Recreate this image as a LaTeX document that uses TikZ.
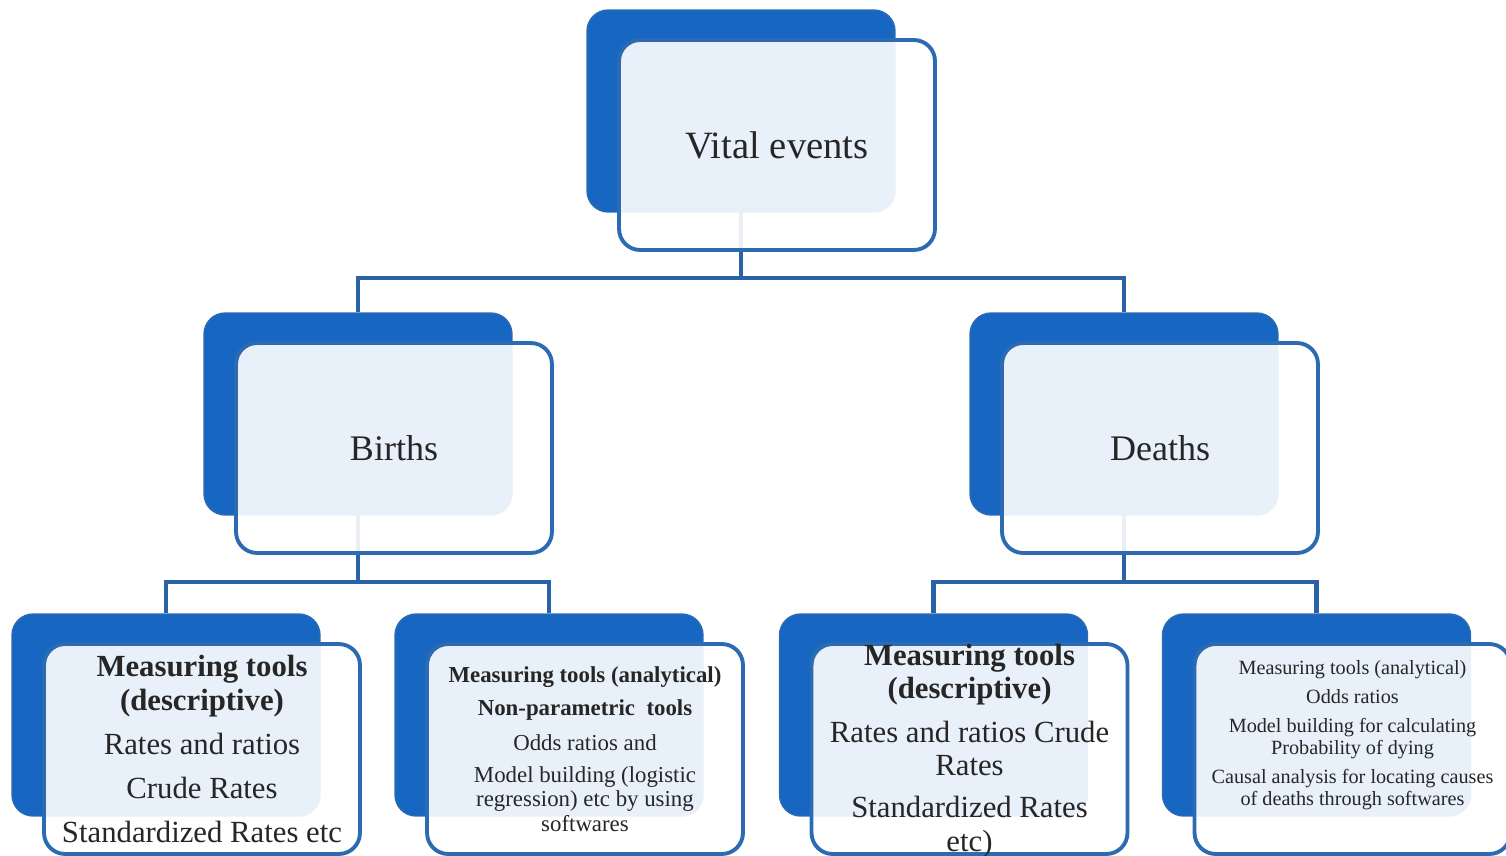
\documentclass[tikz,border=0pt]{standalone}
\usepackage{fontspec}
\setmainfont{Liberation Serif}
\usetikzlibrary{backgrounds}
\definecolor{EventBlue}{HTML}{1766C2}
\definecolor{EventEdge}{HTML}{2C6BB2}
\definecolor{EventLink}{HTML}{2A62A6}
\definecolor{EventText}{HTML}{262626}

\begin{document}
\begin{tikzpicture}[x=0.02cm, y=-0.02cm,
    backbox/.style={draw=EventEdge, line width=0.8pt, fill=EventBlue, rounded corners=12pt, minimum width=6.16cm, minimum height=4.04cm},
    frontbox/.style={draw=EventEdge, line width=2.2pt, fill=white, fill opacity=0.9, text opacity=1, text=EventText, rounded corners=12pt, minimum width=6.32cm, minimum height=4.2cm, align=center},
    plaintext/.style={text=EventText, align=center},
    link/.style={draw=EventLink, line width=2.8pt}]
    \useasboundingbox (0,0) rectangle (1506,855);

    \node[backbox] (vback) at (741,111) {};
    \node[frontbox, font=\fontsize{22}{26}\selectfont] (vital) at ([shift={(36,34)}]vback.center) {Vital events};

    \node[backbox] (bback) at (358,414) {};
    \node[frontbox, font=\fontsize{20.5}{24}\selectfont] (births) at ([shift={(36,34)}]bback.center) {Births};
    \node[backbox] (dback) at (1124,414) {};
    \node[frontbox, font=\fontsize{20.5}{24}\selectfont] (deaths) at ([shift={(36,34)}]dback.center) {Deaths};

    \node[backbox] (b1back) at (166,715) {};
    \node[frontbox, font=\fontsize{17.5}{19}\selectfont] (bdesc) at ([shift={(36,34)}]b1back.center) {%
      \textbf{Measuring tools}\\ \textbf{(descriptive)}\\[6pt] Rates and ratios\\[6pt] Crude Rates\\[6pt] Standardized Rates etc};
    \node[backbox] (b2back) at (549,715) {};
    \node[frontbox, font=\fontsize{13}{13.7}\selectfont] (banal) at ([shift={(36,34)}]b2back.center) {%
      \textbf{Measuring tools (analytical)}\\[5pt] \textbf{Non-parametric\ \ tools}\\[6pt] Odds ratios and\\[5pt] Model building (logistic\\ regression) etc by using\\ softwares};
    \node[backbox] (d1back) at (933.5,715) {};
    \node[frontbox] (ddesc) at ([shift={(36,34)}]d1back.center) {};
    \node[plaintext, font=\fontsize{17.5}{19}\selectfont] (ddesctext) at ([yshift=-1pt]ddesc.center) {%
      \textbf{Measuring tools}\\ \textbf{(descriptive)}\\[6pt] Rates and ratios Crude\\ Rates\\[5pt] Standardized Rates\\ etc)};
    \node[backbox] (d2back) at (1316.5,715) {};
    \node[frontbox] (danal) at ([shift={(36,34)}]d2back.center) {};
    \node[plaintext, font=\fontsize{11.5}{12.5}\selectfont] (danaltext) at ([yshift=8pt]danal.center) {%
      Measuring tools (analytical)\\[4pt] Odds ratios\\[4pt] Model building for calculating\\ Probability of dying\\[4pt] Causal analysis for locating causes\\ of deaths through softwares};

    \begin{scope}[on background layer]
      \coordinate (vbar) at (741,278);
      \coordinate (bbar) at (358,582);
      \coordinate (dbar) at (1124,582);
      \draw[link] (vback.center) -- (vbar) -| (bback.north);
      \draw[link] (vbar) -| (dback.north);
      \draw[link] (bback.center) -- (bbar) -| (b1back.north);
      \draw[link] (bbar) -| (b2back.north);
      \draw[link] (dback.center) -- (dbar) -| (d1back.north);
      \draw[link] (dbar) -| (d2back.north);
    \end{scope}
  \end{tikzpicture}
\end{document}
